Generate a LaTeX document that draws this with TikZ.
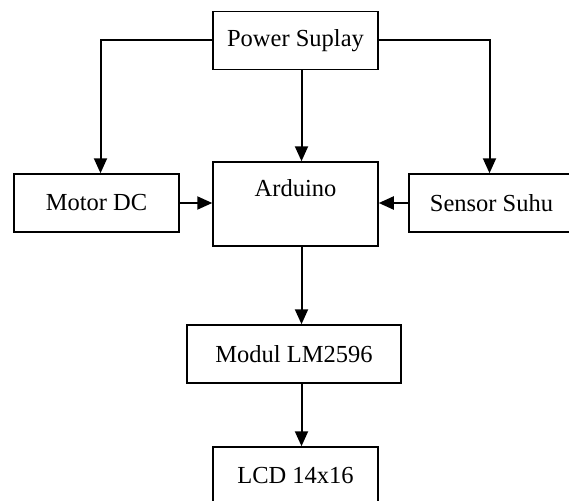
\documentclass[tikz,border=0pt]{standalone}
\usepackage{fontspec}
\setmainfont{Liberation Serif}
\usetikzlibrary{arrows.meta,calc}
\tikzset{
	blok/.style={draw, line width=1.5pt, minimum width=165pt, minimum height=58pt, inner sep=0pt},
	panah/.style={line width=2pt, -{Triangle[length=15pt,width=13pt]}}
}
\begin{document}
\begin{tikzpicture}[x=1pt, y=-1pt, font=\fontsize{24.5}{29}\selectfont, line join=miter]
			\clip (0,0) rectangle (569,500);
			\def\g{6} % geser garis tengah
			\node[blok] (pwr) at (295.5,40.5) {Power Suplay};
			\node[blok] (motor) at (96.5,203) {Motor DC};
			\node[blok, minimum height=84pt, text height=34.5pt, text depth=49.5pt] (ard) at (295.5,204) {Arduino};
			\node[blok] (sensor) at (491.5,203) {Sensor Suhu};
			\node[blok, minimum width=214pt] (modul) at (294,354) {Modul LM2596};
			\node[blok] (lcd) at (295.5,476) {LCD 14x16};
			
			\draw[panah] (pwr.west) -| ([xshift=4pt]motor.north);
			\draw[panah] (pwr.east) -| ([xshift=-2pt]sensor.north);
			\draw[panah] ([xshift=\g pt]pwr.south) -- ([xshift=\g pt]pwr.south |- ard.north);
			\draw[panah] (motor.east) -- (motor.east -| ard.west);
			\draw[panah] (sensor.west) -- (sensor.west -| ard.east);
			\draw[panah] ([xshift=\g pt]ard.south) -- ([xshift=\g pt]ard.south |- modul.north);
			\draw[panah] ([xshift=\g pt]ard.south |- modul.south) -- ([xshift=\g pt]ard.south |- lcd.north);
		\end{tikzpicture}
\end{document}
